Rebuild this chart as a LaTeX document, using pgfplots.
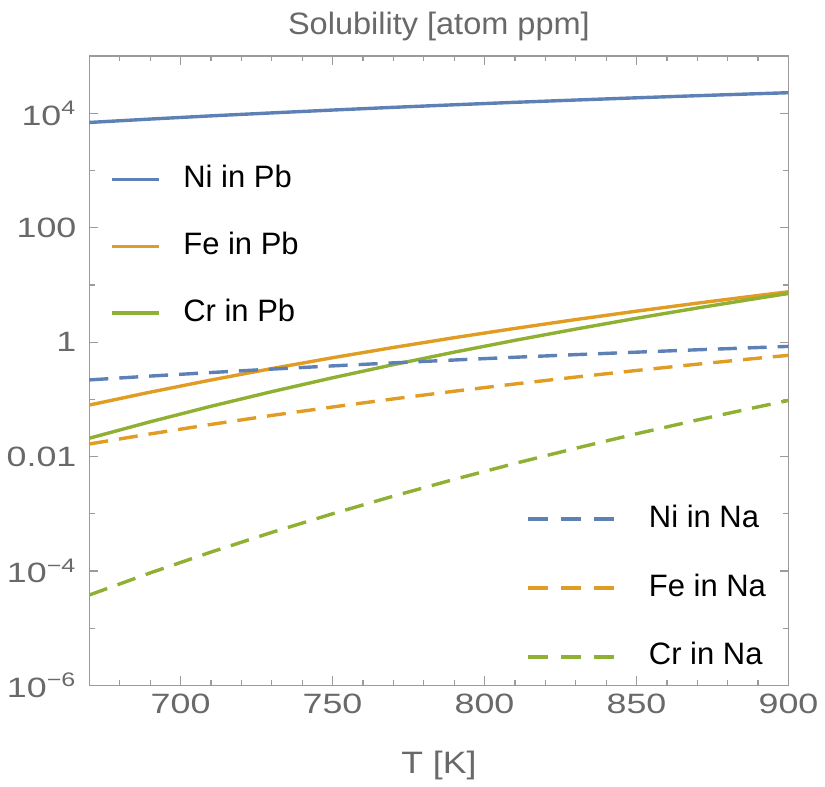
\documentclass[border=0pt]{standalone}
\usepackage{fontspec}
\setmainfont{Liberation Sans}
\newfontfamily\tickfont[FakeStretch=1.28]{Liberation Sans}
\newfontfamily\labfont[FakeStretch=1.05]{Liberation Sans}
\newfontfamily\xlabfont[FakeStretch=1.15]{Liberation Sans}
\usepackage{pgfplots}
\pgfplotsset{compat=1.18}

\definecolor{mblue}{RGB}{94,129,181}
\definecolor{morange}{RGB}{225,156,36}
\definecolor{mgreen}{RGB}{143,176,50}
\definecolor{framegray}{RGB}{155,155,155}
\definecolor{labelgray}{RGB}{105,105,105}

% solubility in atom ppm vs T [K]
\pgfplotstableread{
T    NiPb    FePb    CrPb     NiNa    FeNa     CrNa
670  6.92e3  0.0794  0.02089  0.2183  0.01656  3.793e-5
690  7.93e3  0.1334  0.04046  0.2547  0.02483  9.226e-5
710  9.02e3  0.2173  0.07551  0.2938  0.03639  2.133e-4
730  1.016e4 0.3443  0.1361   0.3373  0.05224  4.710e-4
750  1.140e4 0.5333  0.2377   0.3837  0.07345  9.977e-4
770  1.271e4 0.8054  0.4036   0.4335  0.1016   2.028e-3
790  1.409e4 1.194   0.6668   0.4864  0.1384   3.981e-3
810  1.556e4 1.734   1.074    0.5433  0.1854   7.568e-3
830  1.706e4 2.477   1.690    0.6039  0.2449   1.393e-2
850  1.866e4 3.475   2.612    0.6668  0.3192   2.495e-2
870  2.032e4 4.797   3.945    0.7345  0.4111   4.345e-2
890  2.203e4 6.531   5.848    0.8035  0.5236   7.379e-2
900  2.291e4 7.586   7.079    0.8414  0.5875   9.550e-2
}\soldata

\begin{document}
\begin{tikzpicture}
\begin{axis}[
    width=350pt, height=315pt, scale only axis,
    xmin=670, xmax=900, ymode=log, ymin=1e-6, ymax=1e5,
    axis line style={framegray, line width=0.7pt},
    tick style={framegray, line width=0.6pt},
    tick align=inside,
    major tick length=4.5pt, minor tick length=2.6pt,
    xtick={700,750,800,850,900},
    xticklabels={700,750,800,850,900},
    minor xtick={680,690,710,720,730,740,760,770,780,790,810,820,830,840,860,870,880,890},
    ytick={1e-6,1e-4,1e-2,1,1e2,1e4},
    yticklabels={10\textsuperscript{−6},10\textsuperscript{−4},0.01,1,100,10\textsuperscript{4}},
    minor ytick={1e-5,1e-3,1e-1,1e1,1e3,1e5},
    ticklabel style={font=\tickfont\fontsize{14}{16}\selectfont, text=labelgray},
    xticklabel style={yshift=-1pt},
    yticklabel style={xshift=-3pt},
    title={Solubility [atom ppm]},
    title style={font=\labfont\fontsize{15.5}{18}\selectfont, text=labelgray,
      yshift=-2pt, text height=14pt},
    xlabel={T [K]},
    xlabel style={font=\xlabfont\fontsize{15.5}{18}\selectfont, text=labelgray, yshift=-11.5pt},
    every axis plot/.append style={line width=1.7pt},
    legend image code/.code={\draw[#1] (0pt,0pt) -- (23.5pt,0pt);},
    legend cell align=left,
    legend style={draw=none, fill=none, at={(0.029,0.827)}, anchor=north west,
      inner sep=0pt, column sep=11.5pt, row sep=19.5pt,
      font=\fontsize{15.5}{18}\selectfont,
      nodes={inner sep=0pt, text height=11pt, text depth=3pt}},
]
\addplot[mblue] table[x=T, y=NiPb] {\soldata};
\addlegendentry{Ni in Pb}
\addplot[morange] table[x=T, y=FePb] {\soldata};
\addlegendentry{Fe in Pb}
\addplot[mgreen] table[x=T, y=CrPb] {\soldata};
\addlegendentry{Cr in Pb}
\end{axis}
\begin{axis}[
    width=350pt, height=315pt, scale only axis,
    xmin=670, xmax=900, ymode=log, ymin=1e-6, ymax=1e5,
    hide axis,
    every axis plot/.append style={line width=1.7pt, dash pattern=on 9.5pt off 5.5pt},
    legend image code/.code={\draw[#1, dash pattern=on 10pt off 6.5pt] (0pt,0pt) -- (43.5pt,0pt);},
    legend cell align=left,
    legend style={draw=none, fill=none, at={(0.625,0.287)}, anchor=north west,
      inner sep=0pt, column sep=16pt, row sep=20.5pt,
      font=\fontsize{15.5}{18}\selectfont,
      nodes={inner sep=0pt, text height=11pt, text depth=3pt}},
]
\addplot[mblue] table[x=T, y=NiNa] {\soldata};
\addlegendentry{Ni in Na}
\addplot[morange] table[x=T, y=FeNa] {\soldata};
\addlegendentry{Fe in Na}
\addplot[mgreen] table[x=T, y=CrNa] {\soldata};
\addlegendentry{Cr in Na}
\end{axis}
\end{tikzpicture}
\end{document}
